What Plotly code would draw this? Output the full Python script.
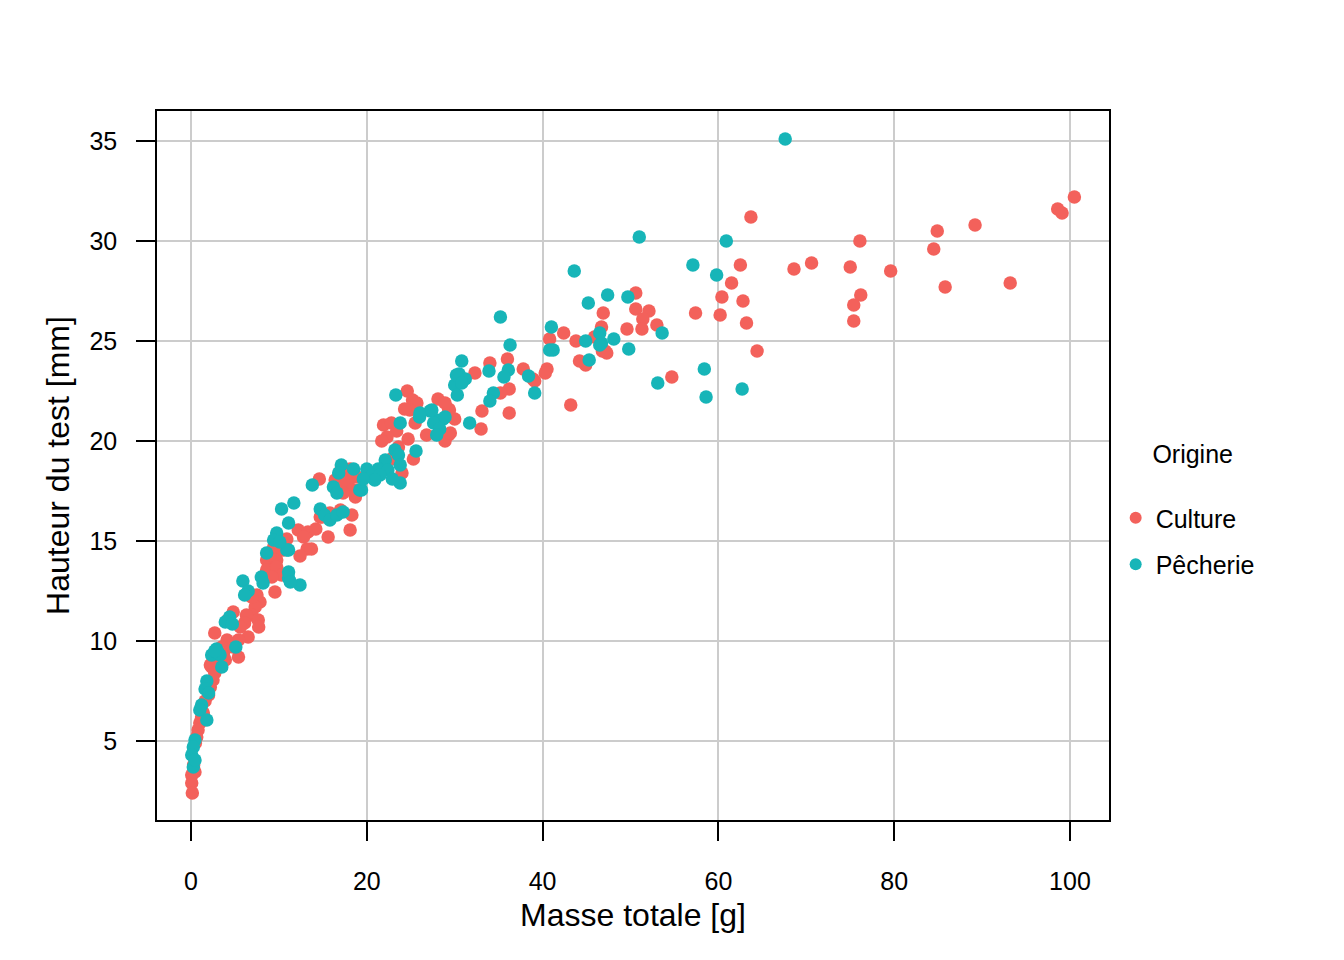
import plotly.graph_objects as go

# Culture (red) points: masse totale [g], hauteur [mm]
culture_x = [100.5, 98.6, 99.1, 89.2, 84.9, 84.5, 93.2, 85.8, 79.6, 76.1, 75.0, 76.2, 75.4, 75.4,
             70.6, 68.6, 63.7, 62.5, 61.5, 60.4, 62.8, 57.4, 60.2, 63.2, 64.4, 54.7,
             50.6, 46.9, 50.6, 52.1, 51.4, 46.7, 49.6, 51.3, 53.0, 47.1, 46.8, 47.3, 42.4, 43.8,
             45.9, 44.2, 44.9, 43.2,
             40.8, 36.0, 34.0, 32.3, 37.8, 38.9, 40.5, 40.3, 39.1, 36.2, 35.2, 36.2, 33.1, 29.4,
             30.0, 33.0,
             24.6, 25.2, 25.7, 24.9, 24.3, 28.1, 29.3, 28.9, 26.8, 29.3, 28.9, 25.5, 21.9, 22.8,
             23.4, 22.3, 24.7, 21.7, 23.6, 25.3, 22.8, 24.0, 17.0, 18.1, 18.9, 17.9, 17.0, 18.5,
             16.4, 29.5,
             14.6, 12.2, 13.3, 14.2, 14.7, 12.8, 10.9, 10.1, 9.4, 8.6, 9.75, 13.2, 13.7, 12.4,
             14.9, 15.8, 17.0, 18.3, 18.1, 15.6, 17.7, 18.3, 17.3, 18.7, 17.7,
             9.0, 10.5, 9.4, 8.6, 9.75, 10.3, 9.2, 9.55, 7.5, 7.85, 7.3, 6.9, 7.65, 6.3, 6.1,
             5.6, 4.8, 4.2, 6.5, 5.4, 4.1, 3.5, 2.7, 3.7, 2.5, 2.2, 6.9, 7.7,
             4.8, 5.4, 3.9, 2.35, 2.7, 2.5, 2.2, 2.0, 1.4, 1.0, 0.8, 0.65, 0.08, 0.08, 0.15, 0.45,
             1.6, 1.2, 0.5, 0.3]
culture_y = [32.2, 31.6, 31.4, 30.8, 30.5, 29.6, 27.9, 27.7, 28.5, 30.0, 28.7, 27.3, 26.8, 26.0,
             28.9, 28.6, 31.2, 28.8, 27.9, 27.2, 27.0, 26.4, 26.3, 25.9, 24.5, 23.2,
             27.4, 26.4, 26.6, 26.5, 26.1, 25.7, 25.6, 25.6, 25.8, 24.5, 24.5, 24.4, 25.4, 25.0,
             25.2, 24.0, 23.8, 21.8,
             25.1, 24.1, 23.9, 23.4, 23.6, 23.1, 23.6, 23.4, 23.0, 22.6, 22.4, 21.4, 21.5, 21.55,
             21.1, 20.6,
             22.5, 22.05, 21.9, 21.55, 21.6, 22.1, 21.6, 21.9, 20.3, 20.3, 20.0, 20.9, 20.8, 20.9,
             20.5, 20.2, 20.1, 20.0, 19.7, 19.1, 19.1, 18.4, 18.5, 18.6, 18.2, 18.0, 17.9, 17.55,
             18.05, 20.4,
             18.1, 15.55, 15.45, 15.6, 16.2, 15.2, 15.1, 14.55, 14.45, 14.05, 14.05, 14.6, 14.6, 14.25,
             16.2, 16.4, 16.55, 16.3, 15.55, 15.2, 17.95, 17.55, 17.4, 17.2, 18.4,
             14.3, 14.55, 14.7, 13.55, 13.7, 13.3, 13.2, 12.45, 12.3, 11.95, 11.7, 11.3, 11.05, 11.3, 10.9,
             10.7, 11.45, 11.05, 10.2, 10.05, 10.05, 9.7, 10.4, 9.4, 9.05, 8.8, 12.2, 10.7,
             9.7, 9.2, 9.05, 8.7, 8.4, 8.05, 7.7, 7.3, 6.4, 5.9, 5.55, 5.2, 3.3, 2.9, 2.4, 3.45,
             7.0, 6.2, 4.9, 3.8]

# Pêcherie (teal) points
peche_x = [67.6, 60.9, 57.1, 59.8, 58.4, 58.6, 62.7, 53.1, 51.0, 47.4, 49.7, 53.6, 48.1, 49.8,
           46.7, 43.6, 45.2, 44.9, 46.5, 46.5, 45.3, 35.2, 41.0, 40.8, 36.3, 30.8, 33.9, 36.1,
           35.6, 30.5, 31.2, 30.0, 30.3, 38.4, 39.1, 34.4, 34.0, 31.7, 28.7, 41.2,
           23.3, 26.0, 27.2, 27.95, 28.9, 30.2, 30.8, 27.6, 28.3, 27.95, 23.2, 23.6, 25.6, 22.1,
           21.3, 22.4, 23.8, 23.8, 22.9, 20.0, 20.6, 21.5, 20.9, 19.4, 16.2, 26.05, 23.8, 27.4,
           13.8, 10.3, 11.7, 11.1, 9.75, 9.4, 8.6, 11.1, 14.7, 15.2, 15.8, 16.6, 17.3, 17.1,
           16.8, 18.5, 19.2, 19.6, 16.6, 12.4, 11.1,
           5.9, 6.5, 6.1, 10.9, 10.1, 11.1, 11.3, 8.0, 8.2, 4.4, 3.9, 2.9, 2.35, 3.3, 3.5, 5.1, 4.7,
           3.1, 2.7, 1.8, 1.6, 2.0, 1.2, 1.0, 1.8, 0.45, 0.26, 0.08, 0.26, 0.45]
peche_y = [35.1, 30.0, 28.8, 28.3, 23.6, 22.2, 22.6, 22.9, 30.2, 27.3, 27.2, 25.4, 25.1, 24.6,
           24.9, 28.5, 26.9, 25.0, 25.4, 24.8, 24.05, 26.2, 25.7, 24.55, 24.8, 24.0, 23.5, 23.55,
           23.2, 23.35, 23.1, 22.8, 22.3, 23.25, 22.4, 22.4, 22.0, 20.9, 21.1, 24.55,
           22.3, 21.2, 21.5, 21.05, 21.2, 23.3, 22.9, 20.9, 20.6, 20.3, 19.55, 19.3, 19.5, 19.05,
           18.6, 18.55, 18.8, 17.9, 18.1, 18.6, 18.3, 18.3, 18.05, 17.55, 17.7, 21.4, 20.9, 21.55,
           17.8, 16.6, 16.9, 15.9, 15.4, 15.05, 14.4, 14.55, 16.6, 16.3, 16.05, 16.3, 16.45, 18.8,
           18.4, 18.6, 17.55, 18.1, 17.4, 12.8, 13.15,
           13.0, 12.5, 12.3, 14.55, 14.95, 13.45, 12.95, 13.2, 12.9, 11.2, 10.95, 9.6, 9.3, 9.3, 8.7, 9.7, 10.85,
           9.4, 9.5, 8.0, 7.6, 7.4, 6.8, 6.55, 6.05, 5.05, 4.7, 4.3, 3.7, 4.05]

x_ticks = [0, 20, 40, 60, 80, 100]
y_ticks = [5, 10, 15, 20, 25, 30, 35]

RED = "#F3615B"
TEAL = "#17B5B8"
FONT = "Liberation Sans, Arial, sans-serif"

fig = go.Figure()
fig.add_trace(go.Scatter(x=culture_x, y=culture_y, mode="markers", name="Culture",
                         legendgroup="a",
                         marker=dict(color=RED, size=13.5, line=dict(width=0))))
fig.add_trace(go.Scatter(x=peche_x, y=peche_y, mode="markers", name="Pêcherie",
                         legendgroup="b",
                         marker=dict(color=TEAL, size=13.5, line=dict(width=0))))

axis_common = dict(
    showline=True, linecolor="black", linewidth=1.5, mirror=True,
    showgrid=True, gridcolor="#cccccc", gridwidth=1.5,
    zeroline=False, ticks="outside", ticklen=19, tickwidth=1.5, tickcolor="black",
    tickfont=dict(family=FONT, size=25, color="black"),
)

fig.update_layout(
    width=1344, height=960,
    margin=dict(l=149, r=243, t=103, b=148),
    paper_bgcolor="white", plot_bgcolor="white",
    font=dict(family=FONT, color="black"),
    xaxis=dict(range=[-3.87, 104.44], tickvals=x_ticks, ticklabelstandoff=19,
               title=dict(text="Masse totale [g]", font=dict(size=32), standoff=10),
               **axis_common),
    yaxis=dict(range=[1.05, 36.5], tickvals=y_ticks, ticklabelstandoff=14,
               title=dict(text="Hauteur du test [mm]", font=dict(size=32), standoff=10),
               **axis_common),
    legend=dict(x=1.007, y=0.55, xanchor="left", yanchor="top",
                title=dict(text="\u00a0\u00a0\u00a0\u00a0\u00a0Origine<br> ", font=dict(size=25)),
                font=dict(size=25), tracegroupgap=11, traceorder="grouped",
                itemsizing="constant"),
)

fig.write_html("out.html")
